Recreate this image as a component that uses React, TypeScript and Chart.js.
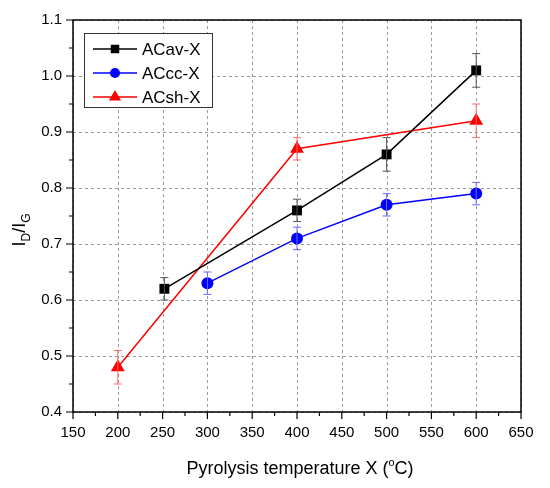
import { useEffect, useRef } from 'react';
import { Chart, registerables } from 'chart.js';

Chart.register(...registerables);

// data
const avTemps = [252, 400, 500, 600];
const avValues = [0.62, 0.76, 0.86, 1.01];
const avErrors = [0.02, 0.02, 0.03, 0.03];

const ccTemps = [300, 400, 500, 600];
const ccValues = [0.63, 0.71, 0.77, 0.79];
const ccErrors = [0.02, 0.02, 0.02, 0.02];

const shTemps = [200, 400, 600];
const shValues = [0.48, 0.87, 0.92];
const shErrors = [0.03, 0.02, 0.03];

const seriesNames = ['ACav-X', 'ACcc-X', 'ACsh-X'];
const seriesColors = ['#000000', '#0000ff', '#ff0000'];
const errorColors = ['#555555', '#6b6bff', '#ff6b6b'];
const seriesShapes = ['rect', 'circle', 'triangle'];
const seriesRadius = [7, 6, 8];

const FONT = 'Arial, "Liberation Sans", sans-serif';

// dashed grid drawn under the data
const dashedGrid = {
  id: 'dashedGrid',
  beforeDatasetsDraw(chart: any) {
    const { ctx, chartArea: a, scales } = chart;
    ctx.save();
    ctx.strokeStyle = '#9a9a9a';
    ctx.lineWidth = 1;
    ctx.setLineDash([3, 3]);
    ctx.beginPath();
    scales.x.ticks.forEach((t: any) => {
      const x = Math.round(scales.x.getPixelForValue(t.value)) + 0.5;
      ctx.moveTo(x, a.top);
      ctx.lineTo(x, a.bottom);
    });
    scales.y.ticks.forEach((t: any) => {
      const y = Math.round(scales.y.getPixelForValue(t.value)) + 0.5;
      ctx.moveTo(a.left, y);
      ctx.lineTo(a.right, y);
    });
    ctx.stroke();
    ctx.restore();
  },
};

const errorBars = {
  id: 'errorBars',
  afterDatasetsDraw(chart: any) {
    const { ctx, scales } = chart;
    const errs = [avErrors, ccErrors, shErrors];
    chart.data.datasets.forEach((ds: any, i: number) => {
      ctx.save();
      ctx.strokeStyle = errorColors[i];
      ctx.lineWidth = 1;
      ds.data.forEach((p: any, j: number) => {
        const x = scales.x.getPixelForValue(p.x);
        const yt = scales.y.getPixelForValue(p.y + errs[i][j]);
        const yb = scales.y.getPixelForValue(p.y - errs[i][j]);
        ctx.beginPath();
        ctx.moveTo(x, yt);
        ctx.lineTo(x, yb);
        ctx.moveTo(x - 4, yt);
        ctx.lineTo(x + 4, yt);
        ctx.moveTo(x - 4, yb);
        ctx.lineTo(x + 4, yb);
        ctx.stroke();
      });
      ctx.restore();
    });
  },
};

const frameAndText = {
  id: 'frameAndText',
  afterDraw(chart: any) {
    const { ctx, chartArea: a, scales } = chart;
    ctx.save();
    // frame
    ctx.strokeStyle = '#000';
    ctx.lineWidth = 1.5;
    ctx.strokeRect(a.left, a.top, a.right - a.left, a.bottom - a.top);

    // outward ticks
    ctx.lineWidth = 1.2;
    ctx.beginPath();
    for (let v = 150; v <= 650; v += 25) {
      const x = scales.x.getPixelForValue(v);
      const len = v % 50 === 0 ? 7 : 4;
      ctx.moveTo(x, a.bottom);
      ctx.lineTo(x, a.bottom + len);
    }
    for (let k = 0; k <= 14; k++) {
      const y = scales.y.getPixelForValue(0.4 + k * 0.05);
      const len = k % 2 === 0 ? 7 : 4;
      ctx.moveTo(a.left, y);
      ctx.lineTo(a.left - len, y);
    }
    ctx.stroke();

    // legend
    const lx = 84;
    const ly = 33;
    ctx.fillStyle = '#fff';
    ctx.fillRect(lx, ly, 128, 74);
    ctx.strokeStyle = '#333';
    ctx.lineWidth = 1;
    ctx.strokeRect(lx + 0.5, ly + 0.5, 128, 74);
    chart.data.datasets.forEach((ds: any, i: number) => {
      const y = ly + 16 + i * 24;
      ctx.strokeStyle = seriesColors[i];
      ctx.lineWidth = 1.5;
      ctx.beginPath();
      ctx.moveTo(lx + 9, y);
      ctx.lineTo(lx + 53, y);
      ctx.stroke();
      ctx.fillStyle = seriesColors[i];
      const r = ds.pointRadius - 1;
      ctx.beginPath();
      if (seriesShapes[i] === 'rect') {
        const s = r * Math.SQRT1_2;
        ctx.rect(lx + 31 - s, y - s, 2 * s, 2 * s);
      } else if (seriesShapes[i] === 'circle') {
        ctx.arc(lx + 31, y, r, 0, Math.PI * 2);
      } else {
        ctx.moveTo(lx + 31, y - r);
        ctx.lineTo(lx + 31 + r * 0.866, y + r * 0.5);
        ctx.lineTo(lx + 31 - r * 0.866, y + r * 0.5);
        ctx.closePath();
      }
      ctx.fill();
      ctx.fillStyle = '#000';
      ctx.font = `17px ${FONT}`;
      ctx.textAlign = 'left';
      ctx.textBaseline = 'middle';
      ctx.fillText(seriesNames[i], lx + 58, y + 1);
    });

    // x title with superscript
    ctx.fillStyle = '#000';
    ctx.textBaseline = 'alphabetic';
    ctx.textAlign = 'left';
    const p1 = 'Pyrolysis temperature X (';
    const p2 = 'o';
    const p3 = 'C)';
    ctx.font = `18px ${FONT}`;
    const w1 = ctx.measureText(p1).width;
    const w3 = ctx.measureText(p3).width;
    ctx.font = `11px ${FONT}`;
    const w2 = ctx.measureText(p2).width;
    let x0 = 300 - (w1 + w2 + w3) / 2;
    ctx.font = `18px ${FONT}`;
    ctx.fillText(p1, x0, 474);
    x0 += w1;
    ctx.font = `11px ${FONT}`;
    ctx.fillText(p2, x0, 466);
    x0 += w2;
    ctx.font = `18px ${FONT}`;
    ctx.fillText(p3, x0, 474);

    // y title I_D/I_G
    ctx.translate(25, 230);
    ctx.rotate(-Math.PI / 2);
    const parts: [string, boolean][] = [['I', false], ['D', true], ['/I', false], ['G', true]];
    let tw = 0;
    parts.forEach(([t, sub]) => {
      ctx.font = sub ? `12px ${FONT}` : `18px ${FONT}`;
      tw += ctx.measureText(t).width;
    });
    let cx = -tw / 2;
    parts.forEach(([t, sub]) => {
      ctx.font = sub ? `12px ${FONT}` : `18px ${FONT}`;
      ctx.fillText(t, cx, sub ? 5 : 0);
      cx += ctx.measureText(t).width;
    });
    ctx.restore();
  },
};

const toPoints = (xs: number[], ys: number[]) => xs.map((x, i) => ({ x, y: ys[i] }));

const App = () => {
  const chartRef = useRef<HTMLCanvasElement>(null);
  const chartInstance = useRef<Chart | null>(null);

  useEffect(() => {
    document.body.style.margin = '0';
    if (!chartRef.current) return;
    const ctx = chartRef.current.getContext('2d');
    if (!ctx) return;

    if (chartInstance.current) {
      chartInstance.current.destroy();
    }

    const pointSets = [
      toPoints(avTemps, avValues),
      toPoints(ccTemps, ccValues),
      toPoints(shTemps, shValues),
    ];

    chartInstance.current = new Chart(ctx, {
      type: 'line',
      data: {
        datasets: pointSets.map((pts, i) => ({
          label: seriesNames[i],
          data: pts,
          borderColor: seriesColors[i],
          backgroundColor: seriesColors[i],
          borderWidth: 1.5,
          pointStyle: seriesShapes[i] as any,
          pointRadius: seriesRadius[i],
          pointBorderWidth: 0,
          tension: 0,
        })),
      },
      options: {
        animation: false,
        responsive: false,
        devicePixelRatio: 1,
        layout: { padding: { left: 0, top: 18, right: 29, bottom: 0 } },
        plugins: {
          legend: { display: false },
          tooltip: { enabled: false },
        },
        scales: {
          x: {
            type: 'linear',
            min: 150,
            max: 650,
            afterFit: (s: any) => {
              s.height = 76;
            },
            ticks: {
              stepSize: 50,
              color: '#000',
              font: { family: FONT, size: 15 },
              padding: 12,
            },
            grid: { display: false, drawTicks: false },
            border: { display: false },
          },
          y: {
            type: 'linear',
            min: 0.4,
            max: 1.1,
            afterFit: (s: any) => {
              s.width = 73;
            },
            ticks: {
              stepSize: 0.1,
              color: '#000',
              font: { family: FONT, size: 15 },
              padding: 11,
              callback: (v: any) => Number(v).toFixed(1),
            },
            grid: { display: false, drawTicks: false },
            border: { display: false },
          },
        },
      },
      plugins: [dashedGrid, errorBars, frameAndText],
    });

    return () => {
      if (chartInstance.current) {
        chartInstance.current.destroy();
        chartInstance.current = null;
      }
    };
  }, []);

  return (
    <div style={{ width: 550, height: 488, background: '#fff' }}>
      <canvas ref={chartRef} width={550} height={488} />
    </div>
  );
};

export default App;
